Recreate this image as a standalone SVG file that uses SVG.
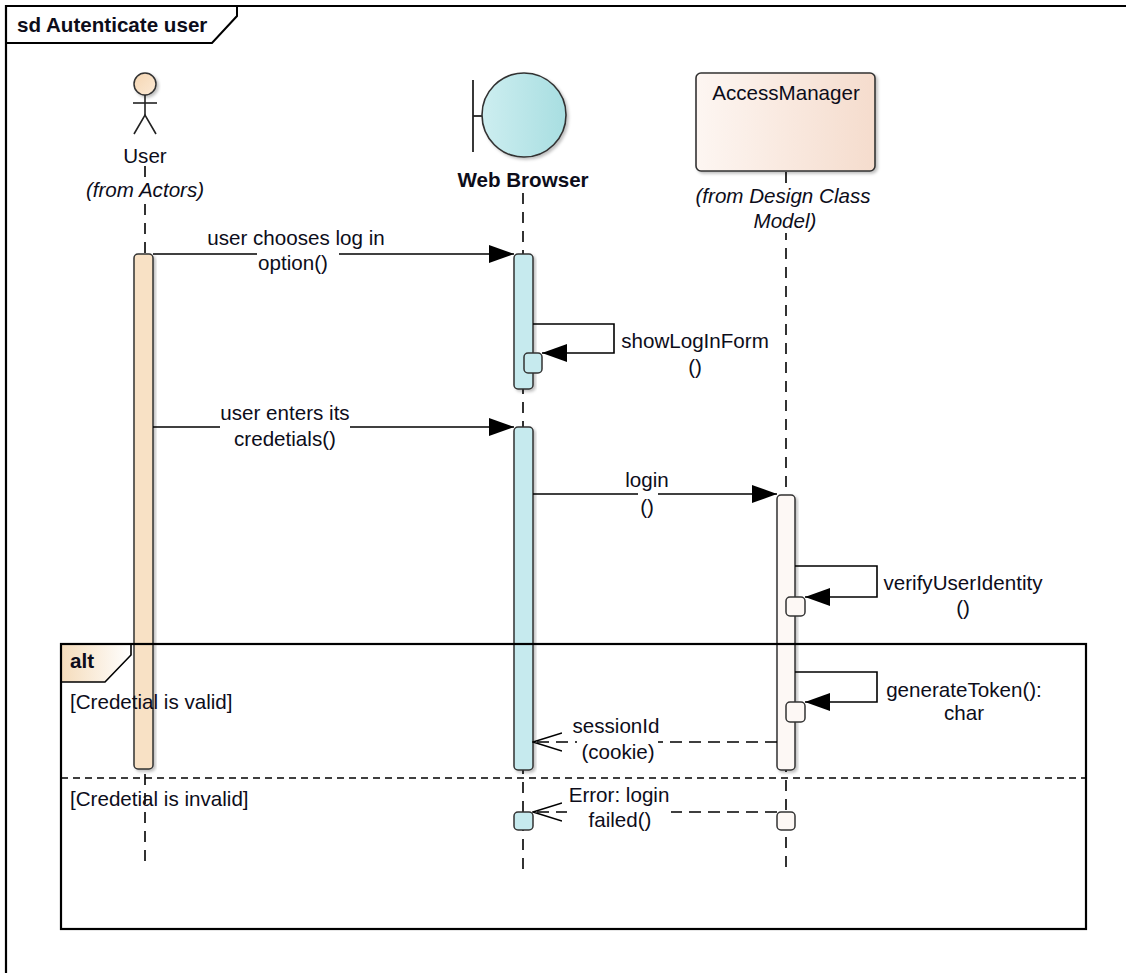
<svg xmlns="http://www.w3.org/2000/svg" width="1126" height="973" viewBox="0 0 1126 973">
<defs>
<linearGradient id="gHead" x1="0" y1="0" x2="1" y2="1"><stop offset="0" stop-color="#f5d6b2"/><stop offset="1" stop-color="#fbe9d5"/></linearGradient>
<linearGradient id="gBound" x1="0" y1="0" x2="1" y2="0"><stop offset="0" stop-color="#cdeef0"/><stop offset="1" stop-color="#a8dee1"/></linearGradient>
<linearGradient id="gClass" x1="0" y1="0" x2="1" y2="0"><stop offset="0" stop-color="#fdf6f2"/><stop offset="1" stop-color="#f5dccd"/></linearGradient>
<linearGradient id="gTab" x1="0" y1="0" x2="1" y2="0"><stop offset="0" stop-color="#f5dcbb"/><stop offset="1" stop-color="#ffffff"/></linearGradient>
<filter id="sh" x="-10%" y="-10%" width="130%" height="130%"><feDropShadow dx="2" dy="2" stdDeviation="1.5" flood-color="#000" flood-opacity="0.25"/></filter>
<marker id="fill" markerWidth="26" markerHeight="18" refX="25" refY="9" orient="auto" markerUnits="userSpaceOnUse"><path d="M0,0 L25,9 L0,18 Z" fill="#000"/></marker>
<marker id="open" markerWidth="30" markerHeight="22" refX="29" refY="11" orient="auto" markerUnits="userSpaceOnUse"><path d="M0,2 L29,11 L0,20" fill="none" stroke="#000" stroke-width="1.6"/></marker>
</defs>
<style>
text{font-family:"Liberation Sans",Arial,sans-serif;font-size:20.6px;fill:#0d0d1a}
.c{text-anchor:middle}
.i{font-style:italic}
.b{font-weight:bold}
.life{stroke:#000;stroke-width:1.6;stroke-dasharray:11 8;fill:none}
.msg{stroke:#000;stroke-width:1.6;fill:none}
.ret{stroke:#000;stroke-width:1.6;fill:none;stroke-dasharray:12 7}
.frm{fill:none;stroke:#000;stroke-width:2.2}
.ua{fill:#f8e1c5;stroke:#333;stroke-width:1.5}
.ba{fill:#c6eaee;stroke:#333;stroke-width:1.5}
.aa{fill:#fdf8f5;stroke:#333;stroke-width:1.5}
.bg{fill:#fff}
</style>
<rect width="1126" height="973" fill="#fff"/>

<g id="frame">
<path d="M6,973 L6,6 L1126,6" fill="none" stroke="#000" stroke-width="2.2"/>
<path d="M6,43 L212,43 L237,16 L237,6" fill="none" stroke="#000" stroke-width="2"/>
<text x="17" y="32" class="b">sd Autenticate user</text>
</g>

<g id="lifelines">
<line x1="145" y1="166" x2="145" y2="865" class="life"/>
<line x1="523" y1="193" x2="523" y2="870" class="life"/>
<line x1="786" y1="172" x2="786" y2="870" class="life"/>
</g>

<g id="node-user">
<circle cx="145" cy="84" r="11" fill="url(#gHead)" stroke="#333" stroke-width="1.5" filter="url(#sh)"/>
<line x1="145" y1="95" x2="145" y2="115" stroke="#222" stroke-width="1.6"/>
<line x1="133" y1="103" x2="157" y2="103" stroke="#222" stroke-width="1.6"/>
<path d="M134,134 L145,115 L156,134" fill="none" stroke="#222" stroke-width="1.6"/>
<text x="145" y="163" class="c">User</text>
<rect x="82" y="178" width="128" height="24" class="bg"/>
<text x="145" y="197" class="c i">(from Actors)</text>
<rect x="134" y="254" width="19" height="515" rx="4" class="ua" filter="url(#sh)"/>
</g>

<g id="node-browser">
<line x1="473" y1="80" x2="473" y2="152" stroke="#222" stroke-width="1.8"/>
<line x1="473" y1="116" x2="482" y2="116" stroke="#222" stroke-width="1.8"/>
<circle cx="524" cy="115" r="42" fill="url(#gBound)" stroke="#333" stroke-width="1.6" filter="url(#sh)"/>
<text x="523" y="187" class="c b">Web Browser</text>
<rect x="514" y="254" width="19" height="135" rx="4" class="ba" filter="url(#sh)"/>
<rect x="524" y="353" width="18" height="20" rx="4" class="ba"/>
<rect x="514" y="427" width="19" height="343" rx="4" class="ba" filter="url(#sh)"/>
<rect x="514" y="812" width="19" height="18" rx="4" class="ba"/>
</g>

<g id="node-accessmanager">
<rect x="696" y="73" width="179" height="98" rx="5" fill="url(#gClass)" stroke="#333" stroke-width="1.6" filter="url(#sh)"/>
<text x="786" y="100" class="c">AccessManager</text>
<rect x="692" y="183" width="184" height="50" class="bg"/>
<text x="783" y="203" class="c i">(from Design Class</text>
<text x="785" y="228" class="c i">Model)</text>
<rect x="777" y="495" width="18" height="275" rx="4" class="aa" filter="url(#sh)"/>
<rect x="786" y="597" width="19" height="19" rx="4" class="aa"/>
<rect x="786" y="702" width="19" height="20" rx="4" class="aa"/>
<rect x="777" y="812" width="18" height="18" rx="4" class="aa"/>
</g>

<g id="alt-fragment">
<path d="M61,644 L131,644 L131,655 L105,682 L61,682 Z" fill="url(#gTab)" stroke="#000" stroke-width="1.6"/>
<rect x="61" y="644" width="1025" height="285" class="frm"/>
<text x="70" y="668" class="b">alt</text>
<text x="70" y="709">[Credetial is valid]</text>
<line x1="61" y1="778" x2="1086" y2="778" stroke="#000" stroke-width="1.6" stroke-dasharray="7 5"/>
<text x="70" y="806">[Credetial is invalid]</text>
</g>

<g id="connectors">
<line x1="153" y1="254" x2="514" y2="254" class="msg" marker-end="url(#fill)"/>
<rect x="257" y="252" width="82" height="22" class="bg"/>
<text x="296" y="245" class="c">user chooses log in</text>
<text x="293" y="270" class="c">option()</text>

<path d="M533,324 L614,324 L614,353 L542,353" class="msg" marker-end="url(#fill)"/>
<text x="695" y="348" class="c">showLogInForm</text>
<text x="695" y="374" class="c">()</text>

<line x1="153" y1="427" x2="514" y2="427" class="msg" marker-end="url(#fill)"/>
<rect x="220" y="425" width="130" height="22" class="bg"/>
<text x="285" y="420" class="c">user enters its</text>
<text x="285" y="446" class="c">credetials()</text>

<line x1="533" y1="494" x2="777" y2="494" class="msg" marker-end="url(#fill)"/>
<rect x="638" y="492" width="20" height="22" class="bg"/>
<text x="647" y="487" class="c">login</text>
<text x="647" y="514" class="c">()</text>

<path d="M795,566 L877,566 L877,597 L805,597" class="msg" marker-end="url(#fill)"/>
<text x="963" y="590" class="c">verifyUserIdentity</text>
<text x="963" y="615" class="c">()</text>

<path d="M795,672 L877,672 L877,702 L805,702" class="msg" marker-end="url(#fill)"/>
<text x="964" y="697" class="c">generateToken():</text>
<text x="964" y="720" class="c">char</text>

<line x1="777" y1="742" x2="533" y2="742" class="ret" marker-end="url(#open)"/>
<rect x="577" y="738" width="81" height="10" class="bg"/>
<text x="616" y="733" class="c">sessionId</text>
<text x="618" y="759" class="c">(cookie)</text>

<line x1="777" y1="812" x2="533" y2="812" class="ret" marker-end="url(#open)"/>
<rect x="567" y="808" width="104" height="10" class="bg"/>
<text x="619" y="802" class="c">Error: login</text>
<text x="620" y="827" class="c">failed()</text>
</g>
</svg>
